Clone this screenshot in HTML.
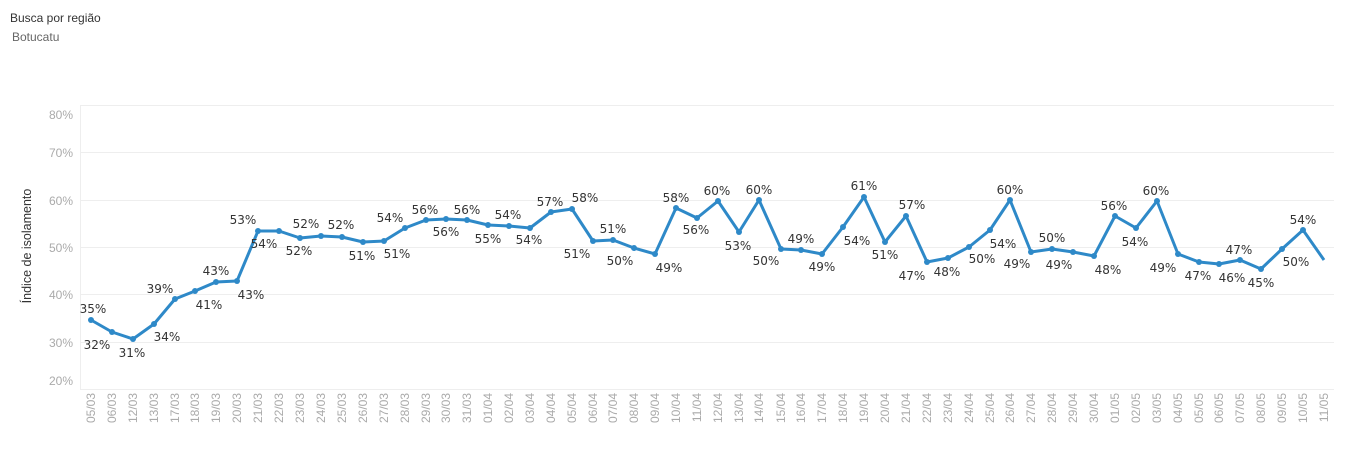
<!DOCTYPE html>
<html><head><meta charset="utf-8"><style>
html,body{margin:0;padding:0;background:#fff;width:1345px;height:455px;overflow:hidden}
svg{display:block;font-family:"Liberation Sans",sans-serif}
.dl text{font-family:"DejaVu Sans",sans-serif;font-size:12px;fill:#333;text-anchor:middle}
.xl text{font-size:12px;fill:#aaa;text-anchor:end}
.yl text{font-size:12px;fill:#aaa;text-anchor:end}
</style></head><body>
<svg width="1345" height="455" viewBox="0 0 1345 455">
<text x="10" y="22" font-size="12" fill="#333">Busca por região</text>
<text x="12" y="41" font-size="12" fill="#666">Botucatu</text>
<g stroke="#eeeeee" stroke-width="1">
<line x1="80" y1="105.5" x2="1334" y2="105.5"/>
<line x1="80" y1="152.5" x2="1334" y2="152.5"/>
<line x1="80" y1="200.5" x2="1334" y2="200.5"/>
<line x1="80" y1="247.5" x2="1334" y2="247.5"/>
<line x1="80" y1="294.5" x2="1334" y2="294.5"/>
<line x1="80" y1="342.5" x2="1334" y2="342.5"/>
<line x1="80" y1="389.5" x2="1334" y2="389.5"/>
<line x1="80.5" y1="105" x2="80.5" y2="389"/>
</g>
<g class="yl">
<text x="73" y="119">80%</text>
<text x="73" y="157">70%</text>
<text x="73" y="205">60%</text>
<text x="73" y="252">50%</text>
<text x="73" y="299">40%</text>
<text x="73" y="347">30%</text>
<text x="73" y="385">20%</text>
</g>
<text transform="translate(31,246) rotate(-90)" font-size="12.5" fill="#333" text-anchor="middle">Índice de isolamento</text>
<polyline fill="none" stroke="#2e89c8" stroke-width="3" stroke-linejoin="round" points="91,320 112,332 133,339 154,324 175,299 195,291 216,282 237,281 258,231 279,231 300,238 321,236 342,237 363,242 384,241 405,228 426,220 446,219 467,220 488,225 509,226 530,228 551,212 572,209 593,241 613,240 634,248 655,254 676,208 697,218 718,201 739,232 759,200 781,249 801,250 822,254 843,227 864,197 885,242 906,216 927,262 948,258 969,247 990,230 1010,200 1031,252 1052,249 1073,252 1094,256 1115,216 1136,228 1157,201 1178,254 1199,262 1219,264 1240,260 1261,269 1282,249 1303,230 1324,260"/>
<g fill="#2e89c8">
<circle cx="91" cy="320" r="3"/><circle cx="112" cy="332" r="3"/><circle cx="133" cy="339" r="3"/><circle cx="154" cy="324" r="3"/><circle cx="175" cy="299" r="3"/><circle cx="195" cy="291" r="3"/><circle cx="216" cy="282" r="3"/><circle cx="237" cy="281" r="3"/><circle cx="258" cy="231" r="3"/><circle cx="279" cy="231" r="3"/><circle cx="300" cy="238" r="3"/><circle cx="321" cy="236" r="3"/><circle cx="342" cy="237" r="3"/><circle cx="363" cy="242" r="3"/><circle cx="384" cy="241" r="3"/><circle cx="405" cy="228" r="3"/><circle cx="426" cy="220" r="3"/><circle cx="446" cy="219" r="3"/><circle cx="467" cy="220" r="3"/><circle cx="488" cy="225" r="3"/><circle cx="509" cy="226" r="3"/><circle cx="530" cy="228" r="3"/><circle cx="551" cy="212" r="3"/><circle cx="572" cy="209" r="3"/><circle cx="593" cy="241" r="3"/><circle cx="613" cy="240" r="3"/><circle cx="634" cy="248" r="3"/><circle cx="655" cy="254" r="3"/><circle cx="676" cy="208" r="3"/><circle cx="697" cy="218" r="3"/><circle cx="718" cy="201" r="3"/><circle cx="739" cy="232" r="3"/><circle cx="759" cy="200" r="3"/><circle cx="781" cy="249" r="3"/><circle cx="801" cy="250" r="3"/><circle cx="822" cy="254" r="3"/><circle cx="843" cy="227" r="3"/><circle cx="864" cy="197" r="3"/><circle cx="885" cy="242" r="3"/><circle cx="906" cy="216" r="3"/><circle cx="927" cy="262" r="3"/><circle cx="948" cy="258" r="3"/><circle cx="969" cy="247" r="3"/><circle cx="990" cy="230" r="3"/><circle cx="1010" cy="200" r="3"/><circle cx="1031" cy="252" r="3"/><circle cx="1052" cy="249" r="3"/><circle cx="1073" cy="252" r="3"/><circle cx="1094" cy="256" r="3"/><circle cx="1115" cy="216" r="3"/><circle cx="1136" cy="228" r="3"/><circle cx="1157" cy="201" r="3"/><circle cx="1178" cy="254" r="3"/><circle cx="1199" cy="262" r="3"/><circle cx="1219" cy="264" r="3"/><circle cx="1240" cy="260" r="3"/><circle cx="1261" cy="269" r="3"/><circle cx="1282" cy="249" r="3"/><circle cx="1303" cy="230" r="3"/>
</g>
<g class="dl">
<text x="93" y="313">35%</text><text x="97" y="349">32%</text><text x="132" y="357">31%</text><text x="167" y="341">34%</text><text x="160" y="293">39%</text><text x="209" y="309">41%</text><text x="216" y="275">43%</text><text x="251" y="299">43%</text><text x="243" y="224">53%</text><text x="264" y="248">54%</text><text x="306" y="228">52%</text><text x="299" y="255">52%</text><text x="341" y="229">52%</text><text x="362" y="260">51%</text><text x="397" y="258">51%</text><text x="390" y="222">54%</text><text x="425" y="214">56%</text><text x="446" y="236">56%</text><text x="467" y="214">56%</text><text x="488" y="243">55%</text>
<text x="508" y="219">54%</text><text x="529" y="244">54%</text><text x="550" y="206">57%</text><text x="585" y="202">58%</text><text x="577" y="258">51%</text><text x="613" y="233">51%</text><text x="620" y="265">50%</text><text x="669" y="272">49%</text><text x="676" y="202">58%</text><text x="696" y="234">56%</text><text x="717" y="195">60%</text><text x="738" y="250">53%</text><text x="759" y="194">60%</text><text x="766" y="265">50%</text><text x="801" y="243">49%</text><text x="822" y="271">49%</text><text x="857" y="245">54%</text><text x="864" y="190">61%</text><text x="885" y="259">51%</text><text x="912" y="209">57%</text><text x="912" y="280">47%</text>
<text x="947" y="276">48%</text><text x="982" y="263">50%</text><text x="1003" y="248">54%</text><text x="1010" y="194">60%</text><text x="1017" y="268">49%</text><text x="1052" y="242">50%</text><text x="1059" y="269">49%</text><text x="1108" y="274">48%</text><text x="1114" y="210">56%</text><text x="1135" y="246">54%</text><text x="1156" y="195">60%</text><text x="1163" y="272">49%</text><text x="1198" y="280">47%</text><text x="1232" y="282">46%</text><text x="1239" y="254">47%</text><text x="1261" y="287">45%</text><text x="1296" y="266">50%</text><text x="1303" y="224">54%</text>
</g>
<g class="xl">
<text transform="translate(95,393) rotate(-90)">05/03</text><text transform="translate(116,393) rotate(-90)">06/03</text><text transform="translate(137,393) rotate(-90)">12/03</text><text transform="translate(158,393) rotate(-90)">13/03</text><text transform="translate(179,393) rotate(-90)">17/03</text><text transform="translate(199,393) rotate(-90)">18/03</text><text transform="translate(220,393) rotate(-90)">19/03</text><text transform="translate(241,393) rotate(-90)">20/03</text><text transform="translate(262,393) rotate(-90)">21/03</text><text transform="translate(283,393) rotate(-90)">22/03</text><text transform="translate(304,393) rotate(-90)">23/03</text><text transform="translate(325,393) rotate(-90)">24/03</text><text transform="translate(346,393) rotate(-90)">25/03</text><text transform="translate(367,393) rotate(-90)">26/03</text><text transform="translate(388,393) rotate(-90)">27/03</text><text transform="translate(409,393) rotate(-90)">28/03</text><text transform="translate(430,393) rotate(-90)">29/03</text><text transform="translate(450,393) rotate(-90)">30/03</text><text transform="translate(471,393) rotate(-90)">31/03</text><text transform="translate(492,393) rotate(-90)">01/04</text>
<text transform="translate(513,393) rotate(-90)">02/04</text><text transform="translate(534,393) rotate(-90)">03/04</text><text transform="translate(555,393) rotate(-90)">04/04</text><text transform="translate(576,393) rotate(-90)">05/04</text><text transform="translate(597,393) rotate(-90)">06/04</text><text transform="translate(617,393) rotate(-90)">07/04</text><text transform="translate(638,393) rotate(-90)">08/04</text><text transform="translate(659,393) rotate(-90)">09/04</text><text transform="translate(680,393) rotate(-90)">10/04</text><text transform="translate(701,393) rotate(-90)">11/04</text><text transform="translate(722,393) rotate(-90)">12/04</text><text transform="translate(743,393) rotate(-90)">13/04</text><text transform="translate(763,393) rotate(-90)">14/04</text><text transform="translate(785,393) rotate(-90)">15/04</text><text transform="translate(805,393) rotate(-90)">16/04</text><text transform="translate(826,393) rotate(-90)">17/04</text><text transform="translate(847,393) rotate(-90)">18/04</text><text transform="translate(868,393) rotate(-90)">19/04</text><text transform="translate(889,393) rotate(-90)">20/04</text><text transform="translate(910,393) rotate(-90)">21/04</text>
<text transform="translate(931,393) rotate(-90)">22/04</text><text transform="translate(952,393) rotate(-90)">23/04</text><text transform="translate(973,393) rotate(-90)">24/04</text><text transform="translate(994,393) rotate(-90)">25/04</text><text transform="translate(1014,393) rotate(-90)">26/04</text><text transform="translate(1035,393) rotate(-90)">27/04</text><text transform="translate(1056,393) rotate(-90)">28/04</text><text transform="translate(1077,393) rotate(-90)">29/04</text><text transform="translate(1098,393) rotate(-90)">30/04</text><text transform="translate(1119,393) rotate(-90)">01/05</text><text transform="translate(1140,393) rotate(-90)">02/05</text><text transform="translate(1161,393) rotate(-90)">03/05</text><text transform="translate(1182,393) rotate(-90)">04/05</text><text transform="translate(1203,393) rotate(-90)">05/05</text><text transform="translate(1223,393) rotate(-90)">06/05</text><text transform="translate(1244,393) rotate(-90)">07/05</text><text transform="translate(1265,393) rotate(-90)">08/05</text><text transform="translate(1286,393) rotate(-90)">09/05</text><text transform="translate(1307,393) rotate(-90)">10/05</text><text transform="translate(1328,393) rotate(-90)">11/05</text>
</g>
</svg>
</body></html>
